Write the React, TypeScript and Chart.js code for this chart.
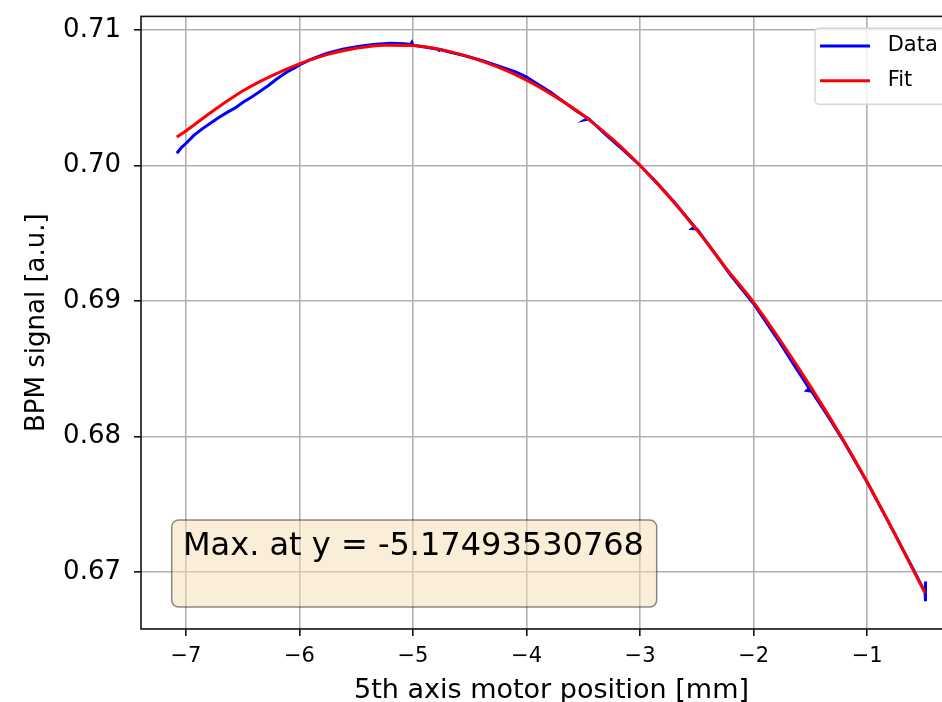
import React, { useEffect, useRef } from 'react';
import { Chart, registerables } from 'chart.js';

Chart.register(...registerables);

// ---- data ----
const dataX = [
  -7.079, -7.04, -7.0, -6.93, -6.85, -6.79, -6.72, -6.64, -6.56, -6.49, -6.42, -6.35, -6.27, -6.2, -6.11,
  -6.05, -6.0, -5.9, -5.76, -5.62, -5.47, -5.35, -5.2, -5.08, -5.02, -5.01, -5.0, -4.9, -4.78, -4.77,
  -4.76, -4.67, -4.55, -4.38, -4.25, -4.09, -4.0, -3.9, -3.79, -3.68, -3.56, -3.46, -3.48, -3.45, -3.3,
  -3.15, -3.0, -2.85, -2.7, -2.52, -2.54, -2.5, -2.35, -2.2, -2.0, -1.88, -1.77, -1.65, -1.51, -1.53,
  -1.49, -1.35, -1.2, -1.0, -0.8, -0.6, -0.49, -0.485, -0.485, -0.49,
];
const dataY = [
  0.7009, 0.70132, 0.70162, 0.70222, 0.70274, 0.70308, 0.70348, 0.7039, 0.70428, 0.7047, 0.70505, 0.70545, 0.70592, 0.70638, 0.7069,
  0.70716, 0.70742, 0.70782, 0.70826, 0.70858, 0.7088, 0.70893, 0.70902, 0.70898, 0.70893, 0.70908, 0.70888, 0.70874, 0.70858, 0.7085,
  0.70855, 0.70836, 0.70812, 0.70772, 0.70735, 0.70688, 0.70652, 0.706, 0.70542, 0.70475, 0.70402, 0.70348, 0.70338, 0.70343, 0.70225,
  0.70115, 0.7, 0.6987, 0.6973, 0.69548, 0.69535, 0.69532, 0.69362, 0.69188, 0.6898, 0.68832, 0.68695, 0.68535, 0.68355, 0.6834,
  0.68335, 0.68155, 0.67955, 0.67662, 0.6735, 0.6703, 0.6685, 0.6693, 0.66785, 0.6685,
];

const fitX = [
  -7.08, -7.0, -6.75, -6.5, -6.25, -6.0, -5.75, -5.5, -5.25, -5.0, -4.75, -4.5, -4.25, -4.0,
  -3.75, -3.5, -3.25, -3.0, -2.75, -2.5, -2.25, -2.0, -1.75, -1.5, -1.25, -1.0, -0.75, -0.49,
];
const fitY = [
  0.7021, 0.70255, 0.7041, 0.7055, 0.7066, 0.7075, 0.7082, 0.70865, 0.70888, 0.70885, 0.70855, 0.708, 0.70725, 0.7063,
  0.7051, 0.7037, 0.702, 0.7, 0.69775, 0.69525, 0.6925, 0.6899, 0.6869, 0.6837, 0.6803, 0.67665, 0.6727, 0.66845,
];

const seriesNames = ['Data', 'Fit'];
const xTicks = [-7, -6, -5, -4, -3, -2, -1];
const yTicks = [0.67, 0.68, 0.69, 0.7, 0.71];
const xRange = [-7.395, -0.165];
const yRange = [0.6658, 0.711];
const xTitle = '5th axis motor position [mm]';
const yTitle = 'BPM signal [a.u.]';
const annotationText = 'Max. at y = -5.17493530768';

const FONT = '"DejaVu Sans", sans-serif';
const BLUE = '#0000ff';
const RED = '#ff0000';

const fmtX = (v: number) => (v < 0 ? '\u2212' + Math.abs(v) : String(v));

const overlayPlugin = {
  id: 'overlay',
  afterDraw(chart: any) {
    const { ctx, chartArea: a } = chart;
    ctx.save();
    // spines
    ctx.strokeStyle = '#111';
    ctx.lineWidth = 1.6;
    ctx.strokeRect(a.left, a.top, a.right - a.left, a.bottom - a.top);

    // annotation box
    const bx = a.left + 30.7;
    const by = a.bottom - 109;
    const bw = 485;
    const bh = 87;
    ctx.beginPath();
    ctx.roundRect(bx, by, bw, bh, 7);
    ctx.fillStyle = 'rgba(245,222,179,0.5)';
    ctx.fill();
    ctx.strokeStyle = 'rgba(0,0,0,0.45)';
    ctx.lineWidth = 1.5;
    ctx.stroke();
    ctx.fillStyle = '#000';
    ctx.font = `32px ${FONT}`;
    ctx.textBaseline = 'alphabetic';
    ctx.textAlign = 'left';
    ctx.fillText(annotationText, bx + 11.3, by + 35);

    // legend
    const lx = a.right - 147;
    const ly = a.top + 11.9;
    ctx.beginPath();
    ctx.roundRect(lx, ly, 137, 76, 4);
    ctx.fillStyle = 'rgba(255,255,255,0.8)';
    ctx.fill();
    ctx.strokeStyle = '#d6d6d6';
    ctx.lineWidth = 1.5;
    ctx.stroke();
    const colors = [BLUE, RED];
    const rows = [17.7, 52.4];
    ctx.font = `21px ${FONT}`;
    ctx.textBaseline = 'middle';
    seriesNames.forEach((name, i) => {
      ctx.beginPath();
      ctx.strokeStyle = colors[i];
      ctx.lineWidth = 3;
      ctx.moveTo(lx + 5, ly + rows[i]);
      ctx.lineTo(lx + 55, ly + rows[i]);
      ctx.stroke();
      ctx.fillStyle = '#000';
      ctx.fillText(name, lx + 72.7, ly + rows[i]);
    });
    ctx.restore();
  },
};

export default function App() {
  const ref = useRef<HTMLCanvasElement>(null);

  useEffect(() => {
    if (!ref.current) return;
    const chart = new Chart(ref.current, {
      type: 'line',
      data: {
        datasets: [
          {
            label: seriesNames[1],
            data: fitX.map((x, i) => ({ x, y: fitY[i] })),
            borderColor: RED,
            backgroundColor: RED,
            borderWidth: 3,
            pointRadius: 0,
            cubicInterpolationMode: 'monotone',
            fill: false,
          },
          {
            label: seriesNames[0],
            data: dataX.map((x, i) => ({ x, y: dataY[i] })),
            borderColor: BLUE,
            backgroundColor: BLUE,
            borderWidth: 3,
            pointRadius: 0,
            tension: 0,
            fill: false,
          },
        ],
      },
      options: {
        animation: false,
        responsive: false,
        maintainAspectRatio: false,
        devicePixelRatio: 1,
        layout: { padding: { top: 16.4, right: 38, left: 0, bottom: 0 } },
        plugins: {
          legend: { display: false },
          tooltip: { enabled: false },
        },
        scales: {
          x: {
            type: 'linear',
            min: xRange[0],
            max: xRange[1],
            afterBuildTicks: (s: any) => {
              s.ticks = xTicks.map((v) => ({ value: v }));
            },
            afterFit: (s: any) => {
              s.height = 91;
              s.paddingLeft = 0;
              s.paddingRight = 0;
            },
            grid: { color: '#b0b0b0', lineWidth: 1.6, tickColor: '#111', tickLength: 7, tickWidth: 1.6 },
            border: { display: false },
            ticks: {
              font: { family: FONT, size: 21 },
              color: '#000',
              padding: 8,
              maxRotation: 0,
              autoSkip: false,
              callback: (v: any) => fmtX(Number(v)),
            },
            title: {
              display: true,
              text: xTitle,
              color: '#000',
              font: { family: FONT, size: 27, lineHeight: 1.2 },
              padding: { top: 0, bottom: 13 },
            },
          },
          y: {
            type: 'linear',
            min: yRange[0],
            max: yRange[1],
            afterBuildTicks: (s: any) => {
              s.ticks = yTicks.map((v) => ({ value: v }));
            },
            afterFit: (s: any) => {
              s.width = 141;
              s.paddingTop = 0;
              s.paddingBottom = 0;
            },
            grid: { color: '#b0b0b0', lineWidth: 1.6, tickColor: '#111', tickLength: 7, tickWidth: 1.6 },
            border: { display: false },
            ticks: {
              font: { family: FONT, size: 26 },
              color: '#000',
              padding: 13,
              autoSkip: false,
              callback: (v: any) => Number(v).toFixed(2),
            },
            title: {
              display: true,
              text: yTitle,
              color: '#000',
              font: { family: FONT, size: 26, lineHeight: 1.2 },
              padding: { top: 22, bottom: 0 },
            },
          },
        },
      },
      plugins: [overlayPlugin],
    } as any);
    return () => chart.destroy();
  }, []);

  return (
    <div
      style={{
        position: 'fixed',
        left: 0,
        top: 0,
        width: 942,
        height: 702,
        overflow: 'hidden',
        background: '#fff',
      }}
    >
      <canvas ref={ref} width={1000} height={720} style={{ display: 'block', width: 1000, height: 720 }} />
    </div>
  );
}
